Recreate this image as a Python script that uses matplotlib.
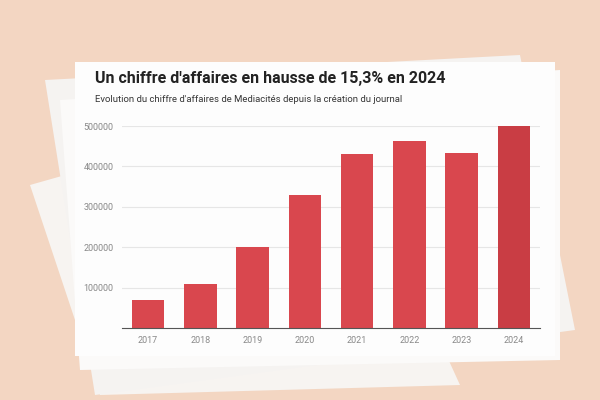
import matplotlib.pyplot as plt
from matplotlib.patches import Polygon, Rectangle

years = ['2017', '2018', '2019', '2020', '2021', '2022', '2023', '2024']
revenue = [69000, 109000, 200000, 329000, 431000, 463000, 434000, 500000]
yticks = [100000, 200000, 300000, 400000, 500000]

W, H = 600, 400
fig = plt.figure(figsize=(6, 4), dpi=100)
fig.patch.set_facecolor('#f3d6c2')


def px(points):
    return [(x / W, 1 - y / H) for x, y in points]


# paper sheets behind the card
for pts, col in [
    ([(30, 185), (330, 100), (460, 385), (100, 395)], '#f7f4f1'),
    ([(45, 80), (520, 55), (575, 330), (95, 395)], '#f5f3f1'),
    ([(60, 100), (560, 70), (560, 360), (80, 370)], '#fbfaf9'),
]:
    fig.patches.append(Polygon(px(pts), closed=True, transform=fig.transFigure,
                               facecolor=col, edgecolor='none', zorder=0))

fig.patches.append(Rectangle((75 / W, 1 - 356 / H), 480 / W, 294 / H,
                             transform=fig.transFigure, facecolor='#fdfdfd',
                             edgecolor='none', zorder=1))

fig.text(95 / W, 1 - 78 / H, "Un chiffre d'affaires en hausse de 15,3% en 2024",
         fontsize=11.5, fontweight='bold', color='#222222', va='center',
         family='Roboto', zorder=3)
fig.text(95 / W, 1 - 100 / H,
         "Evolution du chiffre d'affaires de Mediacités depuis la création du journal",
         fontsize=6.8, color='#333333', va='center', family='Roboto', zorder=3)

ax = fig.add_axes([122 / W, 72 / H, 418 / W, 202 / H], zorder=2)
ax.set_facecolor('none')
colors = ['#d9474e'] * 7 + ['#c93d44']
ax.bar(range(len(years)), revenue, width=0.62, color=colors, zorder=2)
ax.set_xlim(-0.5, len(years) - 0.5)
ax.set_ylim(0, 500000)
ax.set_yticks(yticks)
ax.set_yticklabels([str(v) for v in yticks])
ax.set_xticks(range(len(years)))
ax.set_xticklabels(years)
ax.grid(axis='y', color='#e6e6e6', linewidth=0.8, zorder=0)
for s in ['top', 'right', 'left']:
    ax.spines[s].set_visible(False)
ax.spines['bottom'].set_color('#555555')
ax.tick_params(axis='both', length=0, labelsize=6.5, colors='#888888', pad=6)
for lbl in ax.get_xticklabels() + ax.get_yticklabels():
    lbl.set_family('Roboto')

fig.savefig('out.png', dpi=100, facecolor=fig.get_facecolor())
